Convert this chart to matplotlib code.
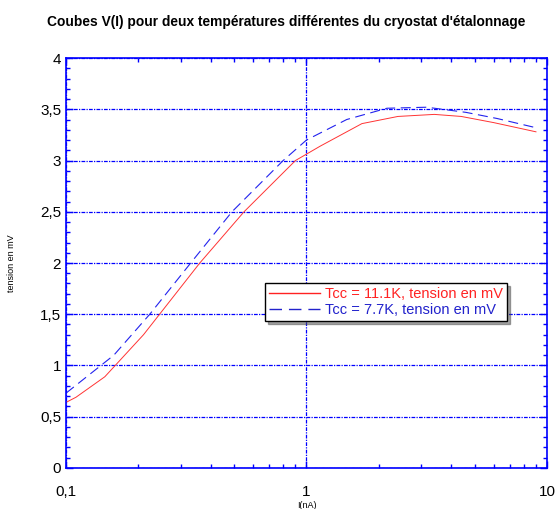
import matplotlib.pyplot as plt
import numpy as np
from matplotlib.ticker import FuncFormatter, MultipleLocator, LogLocator, NullFormatter

plt.rcParams['font.family'] = ['Liberation Sans', 'DejaVu Sans']

# Data
courant_rouge = [0.1, 0.11, 0.145, 0.21, 0.36, 0.55, 0.9, 1.14, 1.7, 2.4, 3.4, 4.4, 6.0, 9.0]
tension_rouge = [0.64, 0.69, 0.89, 1.30, 2.0, 2.5, 3.0, 3.14, 3.36, 3.43, 3.45, 3.43, 3.37, 3.28]
courant_bleu = [0.1, 0.158, 0.223, 0.33, 0.49, 0.8, 1.0, 1.47, 2.16, 3.16, 4.6, 6.2, 9.0]
tension_bleu = [0.73, 1.10, 1.50, 2.0, 2.5, 3.0, 3.2, 3.40, 3.51, 3.52, 3.47, 3.41, 3.32]
label_rouge = "Tcc = 11.1K, tension en mV"
label_bleu = "Tcc = 7.7K, tension en mV"

fig = plt.figure(figsize=(5.57, 5.09), dpi=100)
ax = fig.add_axes([0.1185, 0.0806, 0.8635, 0.8054])

ax.plot(courant_rouge, tension_rouge, color='#ff3333', lw=0.7, label=label_rouge)
ax.plot(courant_bleu, tension_bleu, color='#2222ee', lw=0.8, dashes=(9, 5), label=label_bleu)

ax.set_xscale('log')
ax.set_xlim(0.1, 10)
ax.set_ylim(0, 4)

comma = FuncFormatter(lambda v, p: ('%g' % v).replace('.', ','))
ax.xaxis.set_major_formatter(comma)
ax.yaxis.set_major_formatter(comma)
ax.yaxis.set_major_locator(MultipleLocator(0.5))
ax.yaxis.set_minor_locator(MultipleLocator(0.1))
ax.xaxis.set_minor_locator(LogLocator(base=10, subs=np.arange(2, 10)))
ax.xaxis.set_minor_formatter(NullFormatter())

ax.tick_params(which='both', direction='in', top=True, right=True, color='blue', labelsize=11)
ax.tick_params(which='major', length=5, width=1)
ax.tick_params(which='minor', length=3, width=1)
ax.tick_params(axis='x', pad=12)
for s in ax.spines.values():
    s.set_color('blue')
    s.set_linewidth(1.2)

ax.grid(True, which='major', color='blue', linestyle=(0, (3, 1, 1, 1)), lw=0.9)

ax.set_ylabel('tension en mV', fontsize=6.5, labelpad=17)
ax.set_xlabel('I(nA)', fontsize=6.5, labelpad=2)
fig.suptitle("Coubes V(I) pour deux températures différentes du cryostat d'étalonnage",
             fontsize=9.9, fontweight='bold', x=0.513, y=0.97)

leg = ax.legend(loc='center', bbox_to_anchor=(0.665, 0.405), fontsize=10.5, shadow=True,
                fancybox=False, framealpha=1, edgecolor='black', handlelength=3.5,
                borderpad=0.3, labelspacing=0.1, handletextpad=0.3)
leg.get_frame().set_linewidth(1.0)
for t, h, c in zip(leg.get_texts(), leg.get_lines(), ['#ff2222', '#2222cc']):
    t.set_color(c)
    h.set_color(c)
    h.set_linewidth(1.0)

plt.savefig('out.png', dpi=100)
